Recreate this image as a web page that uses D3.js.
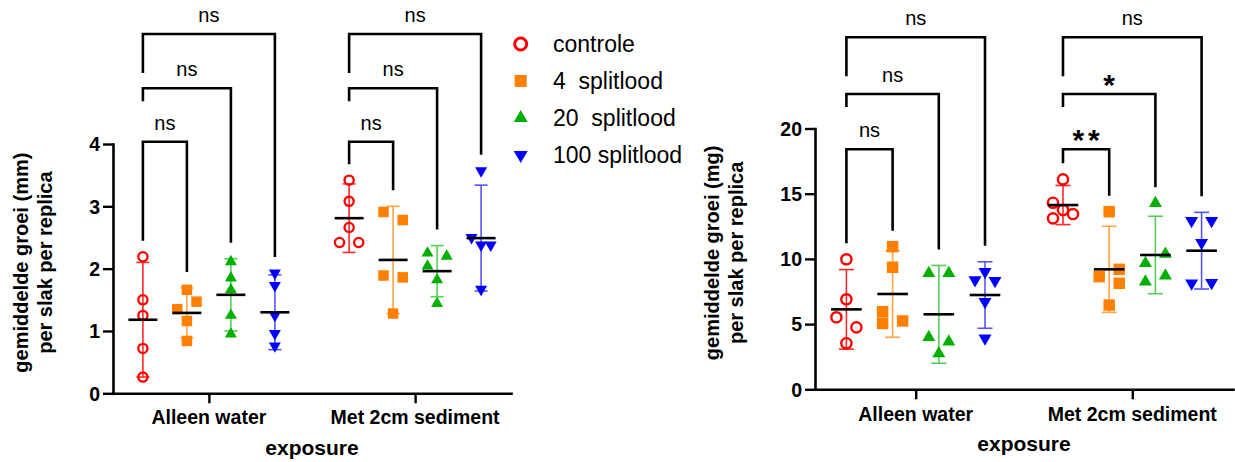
<!DOCTYPE html>
<html><head><meta charset="utf-8">
<script src="https://cdn.jsdelivr.net/npm/d3@7"></script>
<style>
body{margin:0;background:#fff}
svg{display:block}
text{font-family:"Liberation Sans",Arial,sans-serif;fill:#000}
</style>
</head><body>
<svg id="c" width="1235" height="462"></svg>
<script>
// ---------- data ----------
const categories = ["Alleen water", "Met 2cm sediment"];
const seriesNames = ["controle", "4  splitlood", "20  splitlood", "100 splitlood"];

// growth in mm, replicate values per series (controle, 4, 20, 100 splitlood)
const mmAlleenWater = [
  [2.19, 1.50, 1.25, 0.72, 0.26],
  [1.66, 1.35, 1.47, 1.16, 0.84],
  [2.11, 1.85, 1.66, 1.25, 0.95],
  [1.93, 1.73, 1.25, 0.96, 0.76]
];
const mmMetSediment = [
  [3.42, 3.08, 2.66, 2.42, 2.42],
  [2.91, 2.78, 1.89, 1.86, 1.28],
  [2.25, 2.20, 2.04, 1.82, 1.44],
  [3.57, 2.50, 2.38, 2.38, 1.67]
];
const mmMean = [[1.18, 1.29, 1.58, 1.30], [2.81, 2.14, 1.96, 2.49]];
const mmSD   = [[0.92, 0.40, 0.58, 0.60], [0.55, 0.86, 0.41, 0.85]];
const mmTicks = [0, 1, 2, 3, 4];
const mmSignif = [["ns", "ns", "ns"], ["ns", "ns", "ns"]];

// growth in mg
const mgAlleenWater = [
  [9.97, 6.90, 5.52, 4.75, 3.53],
  [10.94, 9.36, 5.95, 5.24, 5.05],
  [8.90, 8.90, 3.99, 3.65, 2.75],
  [8.38, 8.33, 9.02, 6.72, 3.91]
];
const mgMetSediment = [
  [16.10, 13.11, 13.44, 14.31, 13.75],
  [13.62, 8.64, 9.20, 8.13, 6.46],
  [14.26, 9.66, 10.38, 8.25, 8.71],
  [12.93, 12.93, 11.24, 8.13, 8.18]
];
const mgMean = [[6.13, 7.31, 5.75, 7.23], [14.13, 9.20, 10.30, 10.63]];
const mgSD   = [[3.05, 3.32, 3.75, 2.55], [1.50, 3.30, 2.97, 2.94]];
const mgTicks = [0, 5, 10, 15, 20];
const mgSignif = [["ns", "ns", "ns"], ["**", "*", "ns"]];

// ---------- styles ----------
const seriesColors = ["#ff0000", "#ff8000", "#00b000", "#0000ff"];
const errorColors  = ["#ff2a2a", "#ffa447", "#55d055", "#5555ff"];
const FONT = '"Liberation Sans", Arial, sans-serif';

const svg = d3.select("#c");

function symbolPath(s, size) {
  if (s === 0) return d3.symbol(d3.symbolCircle, Math.PI * size.r * size.r)();
  if (s === 1) return d3.symbol(d3.symbolSquare, size.sq * size.sq)();
  return d3.symbol(d3.symbolTriangle, Math.sqrt(3) / 4 * size.tri * size.tri)();
}
function styleMarker(sel, s, size) {
  sel.attr("d", symbolPath(s, size));
  if (s === 0) sel.attr("fill", "none").attr("stroke", seriesColors[0]).attr("stroke-width", size.sw);
  else sel.attr("fill", seriesColors[s]).attr("stroke", "none");
}

// lateral arrangement of overlapping replicates (scatter-dot layout)
function lanes(vals, py, thr) {
  const iso = py.map((p, i) => py.every((q, j) => j === i || Math.abs(p - q) >= thr));
  const lane = [];
  vals.forEach((v, i) => {
    if (iso[i]) { lane[i] = 0; return; }
    for (const L of [-1, 1, 0]) {
      if (!lane.some((l, j) => l === L && Math.abs(py[j] - py[i]) < thr)) { lane[i] = L; return; }
    }
    lane[i] = 0;
  });
  return lane;
}

function draw(cfg) {
  const g = svg.append("g");
  const x = d3.scalePoint().domain(categories).range(cfg.xr).padding(0.465);
  const step = x.step();
  const xs = d3.scalePoint().domain(d3.range(seriesNames.length)).range([-0.32 * step, 0.32 * step]);
  const y = d3.scaleLinear().domain([0, cfg.ymax]).range(cfg.yr);
  const X = (c, s) => x(categories[c]) + xs(s);
  const data = [cfg.alleen, cfg.met];

  // axes
  const yAxis = d3.axisLeft(y).tickValues(cfg.ticks).tickFormat(d3.format("d"))
    .tickSize(10).tickSizeOuter(0).tickPadding(3);
  const ya = g.append("g").attr("transform", `translate(${cfg.xr[0]},0)`).call(yAxis);
  const xAxis = d3.axisBottom(x).tickSize(10).tickSizeOuter(0).tickFormat(() => "");
  const xa = g.append("g").attr("transform", `translate(0,${cfg.yr[0]})`).call(xAxis);
  [ya, xa].forEach(a => {
    a.select(".domain").attr("stroke", "#000").attr("stroke-width", 2.6).attr("stroke-linecap", "square");
    a.selectAll(".tick line").attr("stroke", "#000").attr("stroke-width", 2.4);
  });
  ya.selectAll(".tick text").attr("font-family", FONT).attr("font-size", 19.5).attr("font-weight", "bold")
    .attr("fill", "#000").attr("dy", "0.35em");
  g.selectAll(".cat").data(categories).join("text")
    .attr("x", d => x(d)).attr("y", cfg.catY).attr("text-anchor", "middle")
    .attr("font-size", 19.5).attr("font-weight", "bold").text(d => d);
  g.append("text").attr("x", (cfg.xr[0] + cfg.xr[1]) / 2).attr("y", cfg.titleY)
    .attr("text-anchor", "middle").attr("font-size", 21).attr("font-weight", "bold").text("exposure");

  // y label
  const yc = (cfg.yr[0] + cfg.yr[1]) / 2 - 6;
  cfg.ylabel.forEach((t, i) => {
    g.append("text").attr("transform", `translate(${cfg.ylabelX[i]},${yc}) rotate(-90)`)
      .attr("text-anchor", "middle").attr("font-size", 20).attr("font-weight", "bold").text(t);
  });

  const tops = [[], []];
  data.forEach((grp, c) => {
    grp.forEach((vals, s) => {
      const cx = X(c, s);
      const m = cfg.means[c][s], sd = cfg.sds[c][s];
      // error bar
      const eb = g.append("g").attr("stroke", errorColors[s]).attr("stroke-width", 1.6);
      eb.append("line").attr("x1", cx).attr("x2", cx).attr("y1", y(m - sd)).attr("y2", y(m + sd));
      [m - sd, m + sd].forEach(v => eb.append("line").attr("x1", cx - cfg.cap).attr("x2", cx + cfg.cap)
        .attr("y1", y(v)).attr("y2", y(v)));
      // points
      const py = vals.map(v => y(v));
      const ln = lanes(vals, py, cfg.thr);
      vals.forEach((v, i) => {
        const p = g.append("path").attr("transform",
          `translate(${cx + ln[i] * cfg.laneUnit},${py[i]})` + (s === 3 ? " rotate(180)" : ""));
        styleMarker(p, s, cfg.size);
      });
      // mean
      g.append("line").attr("x1", cx - cfg.meanHalf).attr("x2", cx + cfg.meanHalf)
        .attr("y1", y(m)).attr("y2", y(m)).attr("stroke", "#000").attr("stroke-width", 2.6);
      tops[c][s] = Math.min(d3.min(py), y(m + sd));
    });
  });

  // significance brackets
  const legLen = [null, 13, 39];
  cfg.signif.forEach((labels, c) => {
    labels.forEach((lab, i) => {
      const x1 = X(c, 0), x2 = X(c, i + 1), by = cfg.bracketY[i];
      const yl = i === 0 ? tops[c][0] - 16 : by + legLen[i];
      const yr = tops[c][i + 1] - 16;
      g.append("path").attr("d", `M${x1},${yl}V${by}H${x2}V${yr}`)
        .attr("fill", "none").attr("stroke", "#000").attr("stroke-width", 2.6);
      const t = g.append("text").attr("x", (x1 + x2) / 2).attr("text-anchor", "middle").text(lab);
      if (lab === "ns") t.attr("y", by - 12).attr("font-size", 20);
      else t.attr("y", by + 0.5).attr("font-size", 30).attr("font-weight", "bold")
        .attr("letter-spacing", 4).attr("dx", 2);
    });
  });
}

draw({
  xr: [113, 511], yr: [393.3, 144], ymax: 4, ticks: mmTicks,
  alleen: mmAlleenWater, met: mmMetSediment, means: mmMean, sds: mmSD, signif: mmSignif,
  bracketY: [141.7, 88.3, 34], size: { r: 4.6, sw: 2.3, sq: 10.5, tri: 12 },
  thr: 11, laneUnit: 9.6, cap: 6.5, meanHalf: 14.5,
  catY: 424, titleY: 455,
  ylabel: ["gemiddelde groei (mm)", "per slak per replica"], ylabelX: [28, 52]
});
draw({
  xr: [815, 1233], yr: [389.3, 128.5], ymax: 20, ticks: mgTicks,
  alleen: mgAlleenWater, met: mgMetSediment, means: mgMean, sds: mgSD, signif: mgSignif,
  bracketY: [149.3, 94, 37.3], size: { r: 5.1, sw: 2.4, sq: 11.5, tri: 13 },
  thr: 11, laneUnit: 10, cap: 7.5, meanHalf: 15.3,
  catY: 421, titleY: 451,
  ylabel: ["gemiddelde groei (mg)", "per slak per replica"], ylabelX: [719, 743]
});

// legend
const leg = svg.append("g");
const legY = d3.scalePoint().domain(seriesNames).range([44, 155]);
seriesNames.forEach((n, s) => {
  const p = leg.append("path").attr("transform", `translate(520.7,${legY(n)})` + (s === 3 ? " rotate(180)" : ""));
  styleMarker(p, s, { r: 6, sw: 3, sq: 12, tri: 14 });
  leg.append("text").attr("x", 553).attr("y", legY(n) + 8).attr("font-size", 23)
    .style("white-space", "pre").attr("xml:space", "preserve").text(n);
});
</script>
</body></html>
